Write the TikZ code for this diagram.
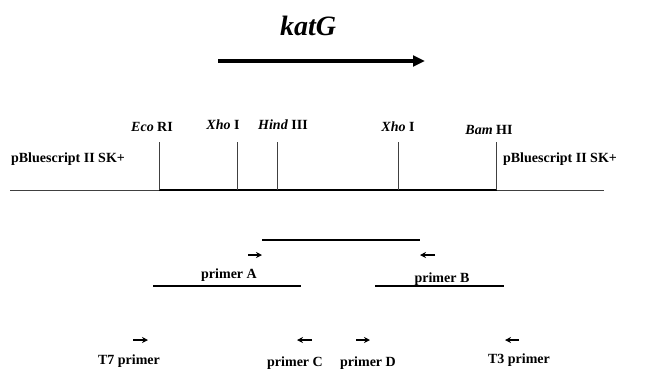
\documentclass[tikz,border=0pt]{standalone}
\usepackage{fontspec}
\setmainfont{Liberation Serif}
\usetikzlibrary{arrows.meta}
\begin{document}
\begin{tikzpicture}[
    x=0.75pt, y=-0.75pt,
    lab/.style={font=\bfseries\fontsize{10.5}{12}\selectfont, inner sep=0pt, anchor=base},
    sitelab/.style={lab},
    vector/.style={line width=0.6pt, black!75},
    insert/.style={line width=2.2pt},
    cutline/.style={line width=0.6pt, black!75},
    fragment/.style={line width=2.2pt},
    primer/.style={-{Stealth[length=4.5pt,width=4.5pt]}, line width=0.9pt},
    genearrow/.style={-{Triangle[length=9pt,width=8pt]}, line width=2.4pt}
]
\useasboundingbox (0,0) rectangle (649,369);

% Title
\node[font=\bfseries\itshape\fontsize{21}{24}\selectfont, inner sep=0pt, anchor=base] (katg) at (308,35) {katG};

% Gene direction
\coordinate (gstart) at (218,61);
\coordinate (gend) at (425,61);
\draw[genearrow] (gstart) -- (gend);

% Vector and insert
\coordinate (vl) at (10,190);
\coordinate (vr) at (604,190);
\coordinate (eco) at (159,190);
\coordinate (xhoa) at (237,190);
\coordinate (hind) at (277,190);
\coordinate (xhob) at (398,190);
\coordinate (bam) at (497,190);
\draw[vector] (vl) -- (vr);
\draw[insert] (eco) -- (bam);

\node[lab] (vecl) at (68,162) {pBluescript II SK+};
\node[lab] (vecr) at (560,162) {pBluescript II SK+};

% Restriction sites
\foreach \s/\x in {eco/159, xhoa/237, hind/277, xhob/398, bam/496} {
    \coordinate (\s top) at (\x,142);
    \draw[cutline] (\s top) -- (\s top |- vl);
}
\node[sitelab] (ecolab) at (152,131) {\textit{Eco} RI};
\node[sitelab] (xhoalab) at (223,129) {\textit{Xho} I};
\node[sitelab] (hindlab) at (283,129) {\textit{Hind} III};
\node[sitelab] (xhoblab) at (398,131) {\textit{Xho} I};
\node[sitelab] (bamlab) at (489,134) {\textit{Bam} HI};

% PCR product A-B
\coordinate (abl) at (262,240);
\coordinate (abr) at (420,240);
\draw[fragment] (abl) -- (abr);
\coordinate (pa1) at (248,255); \coordinate (pa2) at (262,255);
\coordinate (pb1) at (435,255); \coordinate (pb2) at (420,255);
\draw[primer] (pa1) -- (pa2);
\draw[primer] (pb1) -- (pb2);
\node[lab] (prima) at (229,278) {primer A};
\node[lab] (primb) at (442,282) {primer B};

% PCR products T7-C and D-T3
\coordinate (t7l) at (153,286);
\coordinate (t7r) at (301,286);
\coordinate (t3l) at (375,286);
\coordinate (t3r) at (504,286);
\draw[fragment] (t7l) -- (t7r);
\draw[fragment] (t3l) -- (t3r);
\coordinate (p71) at (133,340); \coordinate (p72) at (148,340);
\coordinate (pc1) at (312,340); \coordinate (pc2) at (297,340);
\coordinate (pd1) at (356,340); \coordinate (pd2) at (370,340);
\coordinate (p31) at (519,340); \coordinate (p32) at (505,340);
\draw[primer] (p71) -- (p72);
\draw[primer] (pc1) -- (pc2);
\draw[primer] (pd1) -- (pd2);
\draw[primer] (p31) -- (p32);
\node[lab] (primt7) at (129,364) {T7 primer};
\node[lab] (primc) at (295,366) {primer C};
\node[lab] (primd) at (368,366) {primer D};
\node[lab] (primt3) at (519,363) {T3 primer};

\end{tikzpicture}
\end{document}
